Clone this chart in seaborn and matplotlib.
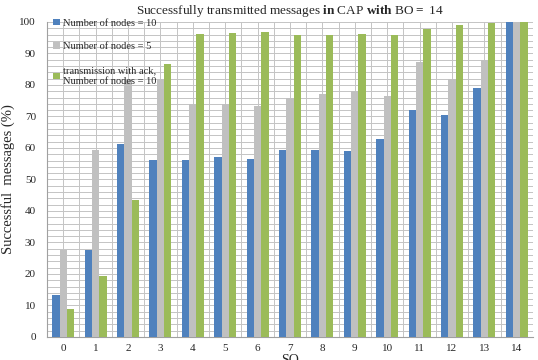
import matplotlib
matplotlib.use('Agg')
import matplotlib.pyplot as plt
import matplotlib.ticker as ticker
import numpy as np
import pandas as pd
import seaborn as sns

# values
so_values = [str(i) for i in range(15)]
nodes_10 = [13.3, 27.6, 61.2, 56.3, 56.3, 57.2, 56.6, 59.4, 59.4, 59.0, 62.8, 72.0, 70.6, 79.2, 100.0]
nodes_5 = [27.5, 59.4, 82.0, 82.0, 74.0, 74.0, 73.2, 76.0, 77.1, 78.0, 76.6, 87.2, 82.0, 88.0, 100.0]
with_ack = [8.9, 19.5, 43.5, 86.8, 96.2, 96.5, 96.7, 95.8, 96.0, 96.3, 95.8, 97.8, 98.9, 99.6, 100.0]

labels = ["Number of nodes = 10", "Number of nodes = 5", "transmission with ack,\nNumber of nodes = 10"]

df = pd.DataFrame({
    "SO": so_values * 3,
    "Series": [labels[0]] * 15 + [labels[1]] * 15 + [labels[2]] * 15,
    "Value": nodes_10 + nodes_5 + with_ack,
})

palette = {labels[0]: "#4F81BD", labels[1]: "#C0C0C0", labels[2]: "#9BBB59"}

sns.set_style("white")
plt.rcParams['font.family'] = ['Liberation Serif', 'DejaVu Serif']
plt.rcParams['mathtext.fontset'] = 'custom'
plt.rcParams['mathtext.rm'] = 'Liberation Serif'
plt.rcParams['mathtext.bf'] = 'Liberation Serif:bold'

fig = plt.figure(figsize=(5.38, 3.6), dpi=100)
ax = fig.add_axes([0.0874, 0.0639, 0.9033, 0.875])

sns.barplot(data=df, x="SO", y="Value", hue="Series", palette=palette,
            width=0.68, saturation=1, linewidth=0, ax=ax, zorder=3)

ax.set_xlim(-0.5, 14.5)
ax.set_ylim(0, 100)

gc = "#C4C4C4"
ax.yaxis.set_major_locator(ticker.MultipleLocator(10))
ax.yaxis.set_minor_locator(ticker.MultipleLocator(2))
ax.xaxis.set_minor_locator(ticker.FixedLocator(np.arange(-0.5, 15, 1)))
ax.grid(which='both', axis='both', color=gc, linewidth=0.7, zorder=0)
ax.set_axisbelow(True)

for s in ['top', 'right']:
    ax.spines[s].set_visible(False)
for s in ['left', 'bottom']:
    ax.spines[s].set_color("#A0A0A0")
    ax.spines[s].set_linewidth(0.8)

ax.tick_params(axis='x', which='major', length=0, labelsize=8, pad=5)
ax.tick_params(axis='x', which='minor', length=4, color="#A0A0A0", direction='out')
ax.tick_params(axis='y', which='major', length=4, color="#A0A0A0", labelsize=8, direction='out', pad=4)
ax.tick_params(axis='y', which='minor', length=0)

ax.set_ylabel("Successful  messages (%)", fontsize=10.5, labelpad=3)
ax.set_xlabel("SO", fontsize=10, labelpad=1)

ax.set_title(r"Successfully transmitted messages $\mathbf{in}$ CAP $\mathbf{with}$ BO$\mathbf{{=}}$ 14",
             fontsize=9.5, pad=6)

leg = ax.legend(loc='upper left', bbox_to_anchor=(0.0, 1.03), frameon=False, fontsize=7.5,
                handlelength=0.6, handleheight=0.6, handletextpad=0.3, labelspacing=1.4,
                borderaxespad=0.2)
for t in leg.get_texts():
    t.set_linespacing(1.3)

fig.savefig("out.png", dpi=100)
